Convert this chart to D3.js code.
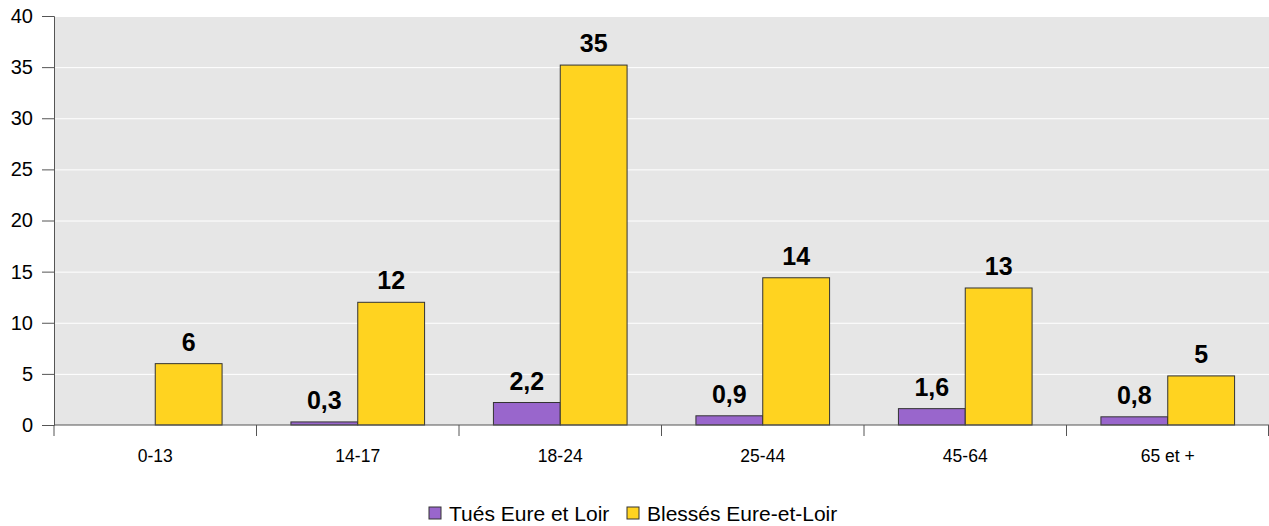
<!DOCTYPE html>
<html>
<head>
<meta charset="utf-8">
<script src="https://cdn.jsdelivr.net/npm/d3@7"></script>
<style>
  body { margin: 0; background: #fff; }
  text { font-family: "Liberation Sans", Arial, sans-serif; fill: #000; }
</style>
</head>
<body>
<svg id="chart" width="1269" height="526"></svg>
<script>
const categories = ["0-13", "14-17", "18-24", "25-44", "45-64", "65 et +"];
const tues = [null, 0.3, 2.2, 0.9, 1.6, 0.8];
const blesses = [6, 12, 35.2, 14.4, 13.4, 4.8];
const yTicks = [0, 5, 10, 15, 20, 25, 30, 35, 40];
const seriesNames = ["Tués Eure et Loir", "Blessés Eure-et-Loir"];
const colors = ["#9966cc", "#ffd320"];

const svg = d3.select("#chart");
const margin = { top: 16, right: 0, bottom: 101, left: 54 };
const width = 1269 - margin.left - margin.right;
const height = 526 - margin.top - margin.bottom;

const g = svg.append("g").attr("transform", `translate(${margin.left},${margin.top})`);

const x = d3.scaleBand().domain(categories).range([0, width]);
const y = d3.scaleLinear().domain([0, 40]).range([height, 0]);

// background
g.append("rect")
    .attr("width", width)
    .attr("height", height)
    .attr("fill", "#e6e6e6");

// gridlines
g.selectAll(".grid")
    .data(yTicks.filter(d => d > 0))
    .enter()
    .append("line")
    .attr("x1", 0)
    .attr("x2", width)
    .attr("y1", d => y(d) + 0.5)
    .attr("y2", d => y(d) + 0.5)
    .attr("stroke", "#fff")
    .attr("stroke-width", 1);

// bars
const rows = categories.map((c, i) => ({ cat: c, vals: [tues[i], blesses[i]] }));
const groups = g.selectAll(".cat")
    .data(rows)
    .enter()
    .append("g")
    .attr("transform", d => `translate(${x(d.cat)},0)`);

const barW = x.bandwidth() * 0.33;
const barX = k => x.bandwidth() * 0.17 + k * barW;

groups.selectAll("rect")
    .data(d => d.vals.map((v, k) => ({ v, k })).filter(d => d.v !== null))
    .enter()
    .append("rect")
    .attr("x", d => barX(d.k))
    .attr("width", barW)
    .attr("y", d => y(d.v))
    .attr("height", d => height - y(d.v))
    .attr("fill", d => colors[d.k])
    .attr("stroke", "#333")
    .attr("stroke-width", 1);

const fmtTues = v => d3.format(".1f")(v).replace(".", ",");
const fmtBless = v => d3.format(".0f")(v);

groups.selectAll(".lbl")
    .data(d => d.vals.map((v, k) => ({ v, k })).filter(d => d.v !== null))
    .enter()
    .append("text")
    .attr("x", d => barX(d.k) + barW / 2)
    .attr("y", d => y(d.v) - 13)
    .attr("text-anchor", "middle")
    .attr("font-size", 25)
    .attr("font-weight", "bold")
    .text(d => d.k === 0 ? fmtTues(d.v) : fmtBless(d.v));

// y axis
const yAxis = g.append("g")
    .call(d3.axisLeft(y).tickValues(yTicks).tickSize(12).tickPadding(9));
yAxis.selectAll("text").attr("font-size", 20).attr("font-family", "Liberation Sans, Arial, sans-serif").attr("fill", "#000");
yAxis.selectAll("line, path").attr("stroke", "#555");

// x axis
const xAxisG = g.append("g").attr("transform", `translate(0,${height})`);
xAxisG.append("line")
    .attr("x1", 0).attr("x2", width)
    .attr("stroke", "#555");
xAxisG.selectAll(".tk")
    .data(categories.concat(["end"]))
    .enter()
    .append("line")
    .attr("x1", (d, i) => i < categories.length ? x(d) : width - 0.5)
    .attr("x2", (d, i) => i < categories.length ? x(d) : width - 0.5)
    .attr("y1", 0)
    .attr("y2", 11)
    .attr("stroke", "#555");
xAxisG.selectAll(".xl")
    .data(categories)
    .enter()
    .append("text")
    .attr("x", d => x(d) + x.bandwidth() / 2)
    .attr("y", 37)
    .attr("text-anchor", "middle")
    .attr("font-size", 17.5)
    .text(d => d);

// legend
const legend = svg.append("g").attr("transform", "translate(429,507)");
const legX = [0, 198];
seriesNames.forEach((name, i) => {
    legend.append("rect")
        .attr("x", legX[i])
        .attr("y", 0)
        .attr("width", 12)
        .attr("height", 12)
        .attr("fill", colors[i])
        .attr("stroke", "#333");
    legend.append("text")
        .attr("x", legX[i] + 20)
        .attr("y", 13.5)
        .attr("font-size", 21)
        .text(name);
});
</script>
</body>
</html>
